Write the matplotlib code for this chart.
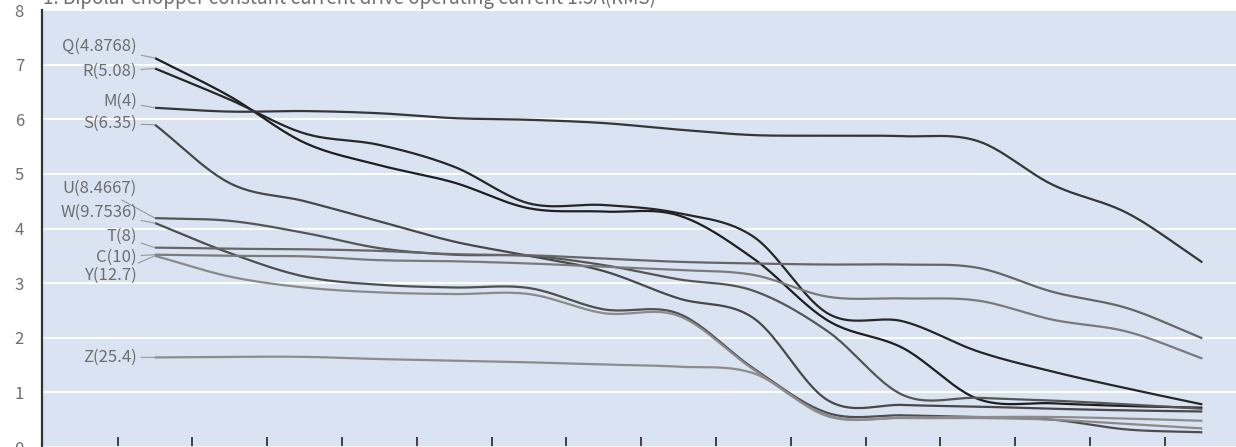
import numpy as np
import matplotlib
matplotlib.use('Agg')
import matplotlib.pyplot as plt

# ============== 1. data ==============
# 15 measuring points along the x axis (ticks sit between them)
x_points = np.arange(15)

labels = ['Q(4.8768)', 'R(5.08)', 'M(4)', 'S(6.35)', 'U(8.4667)',
          'W(9.7536)', 'T(8)', 'C(10)', 'Y(12.7)', 'Z(25.4)']

Q = [7.12, 6.42, 5.57, 5.16, 4.84, 4.37, 4.31, 4.24, 3.45, 2.31, 1.81, 0.88, 0.80, 0.75, 0.72]
R = [6.93, 6.36, 5.74, 5.53, 5.13, 4.46, 4.43, 4.28, 3.85, 2.44, 2.30, 1.75, 1.38, 1.07, 0.78]
M = [6.21, 6.14, 6.15, 6.11, 6.02, 5.99, 5.93, 5.81, 5.71, 5.70, 5.69, 5.60, 4.80, 4.28, 3.38]
S = [5.90, 4.83, 4.50, 4.13, 3.76, 3.50, 3.22, 2.72, 2.36, 0.85, 0.77, 0.74, 0.70, 0.67, 0.65]
U = [4.19, 4.14, 3.92, 3.64, 3.52, 3.50, 3.33, 3.07, 2.86, 2.11, 0.95, 0.90, 0.85, 0.78, 0.70]
W = [4.10, 3.55, 3.12, 2.97, 2.92, 2.91, 2.52, 2.44, 1.44, 0.62, 0.58, 0.55, 0.50, 0.32, 0.27]
T = [3.65, 3.63, 3.62, 3.59, 3.53, 3.51, 3.45, 3.39, 3.36, 3.34, 3.34, 3.28, 2.84, 2.54, 1.99]
C = [3.52, 3.50, 3.49, 3.42, 3.40, 3.36, 3.30, 3.24, 3.15, 2.75, 2.72, 2.68, 2.33, 2.11, 1.62]
Y = [3.50, 3.12, 2.92, 2.83, 2.80, 2.80, 2.45, 2.40, 1.42, 0.58, 0.53, 0.53, 0.50, 0.42, 0.34]
Z = [1.64, 1.65, 1.65, 1.61, 1.58, 1.55, 1.51, 1.47, 1.35, 0.56, 0.54, 0.55, 0.55, 0.52, 0.48]

series = [Q, R, M, S, U, W, T, C, Y, Z]
colors = ['#1e1e1e', '#262626', '#363636', '#484848', '#555555',
          '#4e4e4e', '#666666', '#7a7a7a', '#8a8a8a', '#8c8c8c']
# where the label text sits (data coords)
label_y = [7.33, 6.87, 6.32, 5.92, 4.74, 4.29, 3.85, 3.48, 3.15, 1.65]

title = '1. Bipolar chopper constant current drive operating current 1.5A(RMS)'

plt.rcParams['font.family'] = ['Noto Sans CJK JP', 'DejaVu Sans']


def smooth(xs, ys, n=24):
    # catmull-rom curve through the points, like excel's smoothed lines
    xs = np.asarray(xs, float)
    ys = np.asarray(ys, float)
    px = np.concatenate([[2 * xs[0] - xs[1]], xs, [2 * xs[-1] - xs[-2]]])
    py = np.concatenate([[2 * ys[0] - ys[1]], ys, [2 * ys[-1] - ys[-2]]])
    t = np.linspace(0, 1, n, endpoint=False)
    out_x, out_y = [], []
    for i in range(1, len(px) - 2):
        for p, out in ((px, out_x), (py, out_y)):
            p0, p1, p2, p3 = p[i - 1], p[i], p[i + 1], p[i + 2]
            out.append(0.5 * ((2 * p1) + (-p0 + p2) * t
                              + (2 * p0 - 5 * p1 + 4 * p2 - p3) * t ** 2
                              + (-p0 + 3 * p1 - 3 * p2 + p3) * t ** 3))
    out_x.append([xs[-1]])
    out_y.append([ys[-1]])
    return np.concatenate(out_x), np.concatenate(out_y)


# ============== 2. plot ==============
fig = plt.figure(figsize=(12.36, 4.47), dpi=100)
ax = fig.add_axes([0.034, 0.0, 0.966, 0.9776])
ax.set_facecolor('#dae3f2')

for ys, col in zip(series, colors):
    sx, sy = smooth(x_points, ys)
    ax.plot(sx, sy, color=col, lw=1.6, solid_capstyle='butt', zorder=3)

for name, ys, ly in zip(labels, series, label_y):
    ax.annotate(name, xy=(x_points[0], ys[0]), xytext=(-0.24, ly),
                textcoords='data', ha='right', va='center',
                fontsize=12, color='#6e6e6e',
                arrowprops=dict(arrowstyle='-', color='#999999', lw=0.8,
                                shrinkA=1, shrinkB=0))

ax.set_xlim(-1.51, 14.45)
ax.set_ylim(0, 8)
ax.set_yticks(range(0, 9))
ax.set_xticks(np.arange(-0.5, 14, 1.0))
ax.set_xticklabels([])
ax.tick_params(axis='x', direction='in', length=7, width=1.3, color='#333333')
ax.tick_params(axis='y', length=0, pad=13, labelsize=12, labelcolor='#6e6e6e')

ax.grid(True, axis='y', color='white', lw=1.4)
ax.set_axisbelow(True)
for side in ['top', 'right']:
    ax.spines[side].set_visible(False)
ax.spines['left'].set_color('#333333')
ax.spines['left'].set_linewidth(1.6)
ax.spines['bottom'].set_color('#c8c8c8')
ax.spines['bottom'].set_linewidth(1.0)

# title sits half outside the top edge, as in the source image
fig.text(43 / 1236, 1 - 4 / 447, title, ha='left', va='baseline',
         fontsize=13.5, color='#6e6e6e')

plt.savefig('out.png', dpi=100)
